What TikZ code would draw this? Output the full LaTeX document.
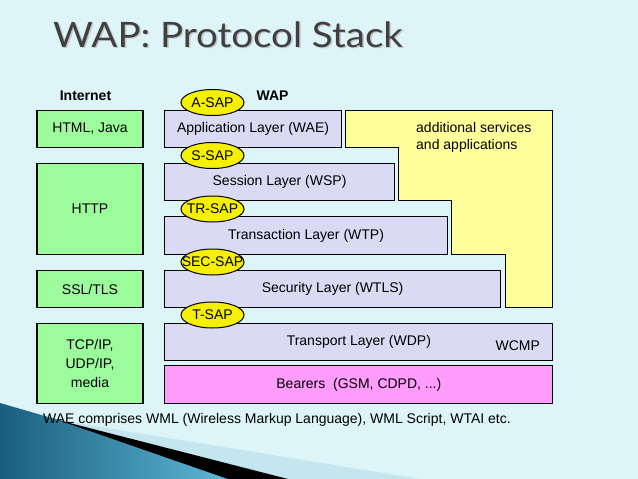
\documentclass[tikz,border=0pt]{standalone}
\usepackage{fontspec}
\setmainfont{Liberation Sans}
\newfontfamily\titlefont{Lato}
\usetikzlibrary{shapes.geometric}
\definecolor{bg}{HTML}{DDF4F8}
\definecolor{gfill}{HTML}{9CFC9C}
\definecolor{lfill}{HTML}{DADAF4}
\definecolor{yfill}{HTML}{FFFF9C}
\definecolor{efill}{HTML}{F4F000}
\definecolor{mfill}{HTML}{FF9CFC}
\definecolor{titlecol}{HTML}{404040}
\definecolor{wdark}{HTML}{1A5E7E}
\definecolor{wlight}{HTML}{5FB8D6}
\definecolor{wpale}{HTML}{C4E6EF}
\tikzset{
  txt/.style={font=\fontsize{14}{16}\selectfont, text=black},
  gbox/.style={txt, draw=black, line width=1.1pt, fill=gfill, minimum width=106, inner sep=0, align=center},
  lbox/.style={txt, draw=black, line width=1.1pt, fill=lfill, inner sep=0, anchor=west},
  sap/.style={txt, ellipse, draw=black, line width=1pt, fill=efill, inner sep=0, minimum width=63, minimum height=26},
  head/.style={font=\fontsize{14}{16}\selectfont\bfseries, text=black},
  ttl/.style={anchor=base west, inner sep=0, xscale=1.1, font=\titlefont\fontsize{35}{40}\selectfont}
}
\begin{document}
\begin{tikzpicture}[x=1pt,y=-1pt]
\useasboundingbox (0,0) rectangle (638,479);
\fill[bg] (0,0) rectangle (638,479);
% decorative wedge
\fill[wpale] (58,420) -- (420,479) -- (288,479) -- cycle;
\shade[left color=wdark, right color=wlight] (0,403) -- (62,421) -- (232,479) -- (0,479) -- cycle;
\fill[black] (58,420) -- (288,479) -- (228,479) -- cycle;
% title
\node[ttl, text=black!22] at (54.5,48.5) {WAP: Protocol Stack};
\node[ttl, text=titlecol] (title) at (53,47) {WAP: Protocol Stack};
% headers
\node[head] (inet) at (85.5,96) {Internet};
\node[head] (wap) at (272.5,96) {WAP};
% internet column
\node[gbox, minimum height=36.6] (html) at (90,129) {HTML, Java};
\node[gbox, minimum height=91] (http) at (90,208.8) {HTTP};
\node[gbox, minimum height=36.6] (ssl) at (90,289) {SSL/TLS};
\node[gbox, minimum height=80, font=\fontsize{14}{19}\selectfont] (tcp) at (90,363.3) {TCP/IP,\\UDP/IP,\\media};
% yellow area
\draw[fill=yfill, line width=1.1pt] (345.3,110.7) -- (552.3,110.7) -- (552.3,307.3) -- (505.3,307.3) -- (505.3,254.3) -- (451.7,254.3) -- (451.7,200.7) -- (398.7,200.7) -- (398.7,147.3) -- (345.3,147.3) -- cycle;
\node[txt, anchor=north west, align=left, inner sep=0, font=\fontsize{14}{16.7}\selectfont] (addl) at (416,122.5) {additional services\\and applications};
% WAP layers
\node[lbox, minimum width=176.4, minimum height=36.6] (wae) at (164.3,129) {Application Layer (WAE)};
\node[lbox, minimum width=229.4, minimum height=36.7] (wsp) at (164.3,181.7) {Session Layer (WSP)};
\node[lbox, minimum width=282.4, minimum height=37.5] (wtp) at (164.3,235.6) {Transaction Layer (WTP)};
\node[lbox, minimum width=335.4, minimum height=36.6] (wtls) at (164.3,289) {Security Layer (WTLS)};
\node[lbox, minimum width=388, minimum height=37] (wdp) at (164.3,341.8) {Transport Layer (WDP)};
\node[lbox, minimum width=388, minimum height=37.6, fill=mfill] (bear) at (164.3,384.5) {Bearers\ \ (GSM, CDPD, ...)};
\node[txt] (wcmp) at (517.7,346) {WCMP};
% SAPs
\node[sap] (asap) at (212.5,102.5) {\makebox[0pt]{A-SAP}};
\node[sap] (ssap) at (212.5,155.5) {\makebox[0pt]{S-SAP}};
\node[sap] (trsap) at (212.5,209) {\makebox[0pt]{TR-SAP}};
\node[sap] (secsap) at (212.5,262) {\makebox[0pt]{SEC-SAP}};
\node[sap] (tsap) at (212.5,315) {\makebox[0pt]{T-SAP}};
% footnote
\node[txt, anchor=west, inner sep=0] (note) at (43,420) {WAE comprises WML (Wireless Markup Language), WML Script, WTAI etc.};
\end{tikzpicture}
\end{document}
